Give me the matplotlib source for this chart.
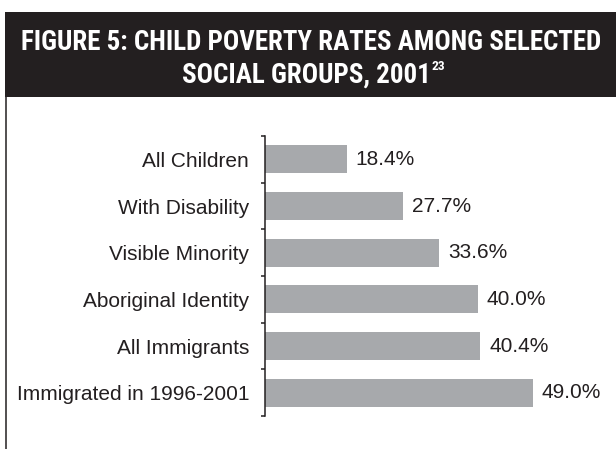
import matplotlib
matplotlib.use("Agg")
import matplotlib.pyplot as plt
from matplotlib import font_manager as fm
from matplotlib.patches import Rectangle
from matplotlib.lines import Line2D

categories = ["All Children", "With Disability", "Visible Minority",
              "Aboriginal Identity", "All Immigrants", "Immigrated in 1996-2001"]
values = [18.4, 27.7, 33.6, 40.0, 40.4, 49.0]
value_labels = ["18.4%", "27.7%", "33.6%", "40.0%", "40.4%", "49.0%"]
title_line1 = "FIGURE 5: CHILD POVERTY RATES AMONG SELECTED"
title_line2 = "SOCIAL GROUPS, 2001"
title_sup = "23"

W, H = 616, 449
DPI = 100
dark = "#231f20"
bar_color = "#a7a9ac"

WEIGHTS = {"ultralight": 200, "light": 300, "normal": 400, "regular": 400, "book": 400,
           "medium": 500, "roman": 400, "semibold": 600, "demibold": 600, "demi": 600,
           "bold": 700, "heavy": 800, "extra bold": 800, "black": 900}


def wnum(f):
    w = f.weight
    if isinstance(w, str):
        return WEIGHTS.get(w, 400)
    return w


def is_condensed(f):
    s = f.stretch
    if isinstance(s, str):
        cond = "condensed" in s or "narrow" in s
    else:
        cond = s < 500
    return cond or "Narrow" in f.name or "Condensed" in f.name


cands = [f for f in fm.fontManager.ttflist if 550 <= wnum(f) <= 750 and is_condensed(f)
         and "Italic" not in f.fname and "Oblique" not in f.fname and f.style == "normal"]
pref = ["Liberation Sans Narrow", "Roboto Condensed", "Noto Sans", "Open Sans",
        "Arimo", "Lato", "Inter", "DejaVu Sans"]


def rank(f):
    for i, p in enumerate(pref):
        if f.name.startswith(p):
            return (i, abs(wnum(f) - 600))
    return (len(pref), abs(wnum(f) - 600))


cands.sort(key=rank)
if cands:
    tprop = fm.FontProperties(fname=cands[0].fname)
else:
    tprop = fm.FontProperties(family="DejaVu Sans", stretch="condensed", weight="bold")

body_prop = fm.FontProperties(family=["Liberation Sans", "Arial", "DejaVu Sans"])

fig = plt.figure(figsize=(W / DPI, H / DPI), dpi=DPI)
fig.patch.set_facecolor("white")


def fx(px):
    return px / W


def fy(py):
    return 1 - py / H


# Title box
fig.patches.append(Rectangle((fx(5), fy(97)), 1 - fx(5), fy(12) - fy(97),
                             transform=fig.transFigure, facecolor=dark,
                             edgecolor="none", zorder=0))
fig.lines.append(Line2D([fx(5.5), fx(5.5)], [0, fy(97)], transform=fig.transFigure,
                        color=dark, linewidth=1.1))

t1 = fig.text(fx(311), fy(50), title_line1, color="white",
              ha="center", va="baseline", fontproperties=tprop)
t1.set_fontsize(19)
fig.canvas.draw()
r = fig.canvas.get_renderer()
w1 = t1.get_window_extent(r).width
tsize = min(19 * 580 / w1, 20)
t1.set_fontsize(tsize)

t2 = fig.text(fx(306), fy(82.5), title_line2, color="white",
              ha="center", va="baseline", fontproperties=tprop)
t2.set_fontsize(tsize)
fig.canvas.draw()
t3 = fig.text(0, 0, title_sup, color="white",
              ha="left", va="top", fontproperties=tprop)
t3.set_fontsize(tsize * 0.5)
bb = t2.get_window_extent(r)
t3.set_position((bb.x1 / W + 1 / W, bb.y1 / H + 2 / H))

# Axes
x0_val, x1_val = 5, 60
ax_left, ax_right = 265, 599.6
ax_top, ax_bottom = 136, 416
ax = fig.add_axes([fx(ax_left), fy(ax_bottom), fx(ax_right) - fx(ax_left),
                   (ax_bottom - ax_top) / H])
ypos = list(range(len(categories)))
ax.barh(ypos, [v - x0_val for v in values], left=x0_val, height=0.6,
        color=bar_color, edgecolor="none")
ax.set_xlim(x0_val, x1_val)
ax.set_ylim(len(categories) - 0.5, -0.5)

for y, v, lab in zip(ypos, values, value_labels):
    ax.annotate(lab, (v, y), xytext=(6.5, 0), textcoords="offset points",
                ha="left", va="center", color=dark,
                fontproperties=body_prop).set_fontsize(15)

ax.set_yticks(ypos)
ax.set_yticklabels(categories, color=dark, fontproperties=body_prop)
for lab in ax.get_yticklabels():
    lab.set_fontsize(15)
ax.tick_params(axis="y", which="major", length=0, pad=11.5)
ax.set_yticks([i - 0.5 for i in range(len(categories) + 1)], minor=True)
ax.tick_params(axis="y", which="minor", length=3, width=1.1, color=dark,
               direction="out")
ax.set_xticks([])
for s in ["top", "right", "bottom"]:
    ax.spines[s].set_visible(False)
ax.spines["left"].set_color(dark)
ax.spines["left"].set_linewidth(1.1)
ax.set_facecolor("none")

fig.savefig("out.png", dpi=DPI)
